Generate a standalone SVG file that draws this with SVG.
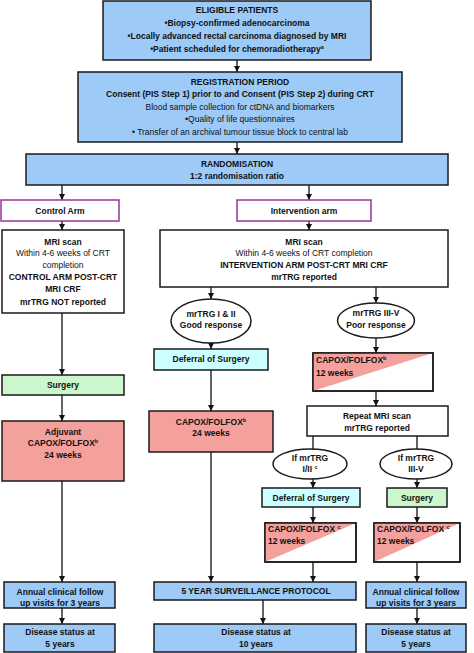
<svg xmlns="http://www.w3.org/2000/svg" width="474" height="653" viewBox="0 0 474 653">
<defs>
<marker id="ah" markerUnits="userSpaceOnUse" markerWidth="6" markerHeight="6" refX="6" refY="3" orient="auto">
<path d="M0,0 L6,3 L0,6 z" fill="#111"/>
</marker>
<style>
.bx{stroke:#1a1a1a;stroke-width:1.5}
.blue{fill:#9dcaf7}
.pink{fill:#f4a19e}
.cyan{fill:#ccffff}
.green{fill:#ccf7cc}
.white{fill:#fff}
.purple{fill:#fff;stroke:#993399;stroke-width:1.5}
text{font-family:"Liberation Sans",Arial,sans-serif;font-size:8.5px;fill:#111}
.m{text-anchor:middle}
.b{font-weight:bold}
.sup{font-size:5.5px}
.c line{stroke:#111;stroke-width:1.3}
.c .a{marker-end:url(#ah)}
</style>
</defs>
<rect width="474" height="653" fill="#fff"/>

<g class="c">
<line class="a" x1="237" y1="60" x2="237" y2="72"/>
<line class="a" x1="237" y1="142" x2="237" y2="154"/>
<line class="a" x1="62" y1="185" x2="62" y2="200"/>
<line class="a" x1="309" y1="185" x2="309" y2="200"/>
<line class="a" x1="62" y1="221" x2="62" y2="230"/>
<line class="a" x1="309" y1="221" x2="309" y2="230"/>
<line class="a" x1="62" y1="313" x2="62" y2="375"/>
<line class="a" x1="62" y1="395" x2="62" y2="421"/>
<line class="a" x1="62" y1="481" x2="62" y2="582"/>
<line class="a" x1="62" y1="608" x2="62" y2="624"/>
<line class="a" x1="211" y1="287" x2="211" y2="299"/>
<line class="a" x1="376" y1="287" x2="376" y2="303"/>
<line class="a" x1="211" y1="343" x2="211" y2="349"/>
<line class="a" x1="211" y1="370" x2="211" y2="411"/>
<line class="a" x1="211" y1="452" x2="211" y2="582"/>
<line class="a" x1="376" y1="338" x2="376" y2="353"/>
<line class="a" x1="376" y1="391" x2="376" y2="406"/>
<line x1="313" y1="436" x2="313" y2="449"/>
<line x1="417" y1="436" x2="417" y2="449"/>
<line class="a" x1="313" y1="479" x2="313" y2="488"/>
<line class="a" x1="417" y1="479" x2="417" y2="488"/>
<line class="a" x1="313" y1="507" x2="313" y2="523"/>
<line class="a" x1="417" y1="507" x2="417" y2="523"/>
<line class="a" x1="313" y1="562" x2="313" y2="582"/>
<line class="a" x1="417" y1="562" x2="417" y2="582"/>
<line class="a" x1="417" y1="608" x2="417" y2="624"/>
<line class="a" x1="263" y1="600" x2="263" y2="624"/>
</g>

<g id="eligible">
<rect class="bx blue" x="103" y="1" width="268" height="59"/>
<text class="m b" x="237" y="13">ELIGIBLE PATIENTS</text>
<text class="m b" x="237" y="26">•Biopsy-confirmed adenocarcinoma</text>
<text class="m b" x="237" y="39">•Locally advanced rectal carcinoma diagnosed by MRI</text>
<text class="m b" x="237" y="52">•Patient scheduled for chemoradiotherapy<tspan class="sup" dy="-3">a</tspan></text>
</g>

<g id="registration">
<rect class="bx blue" x="78" y="72" width="324" height="70"/>
<text class="m b" x="240" y="85">REGISTRATION PERIOD</text>
<text class="m b" x="240" y="97">Consent (PIS Step 1) prior to and Consent (PIS Step 2) during CRT</text>
<text class="m" x="240" y="110">Blood sample collection for ctDNA and biomarkers</text>
<text class="m" x="240" y="122">•Quality of life questionnaires</text>
<text class="m" x="240" y="135">• Transfer of an archival tumour tissue block to central lab</text>
</g>

<g id="randomisation">
<rect class="bx blue" x="26" y="154" width="422" height="31"/>
<text class="m b" x="237" y="167">RANDOMISATION</text>
<text class="m b" x="237" y="179">1:2 randomisation ratio</text>
</g>

<g id="control-arm">
<rect class="purple" x="1" y="200" width="118" height="21"/>
<text class="m b" x="60" y="214">Control Arm</text>
</g>

<g id="intervention-arm">
<rect class="purple" x="237" y="200" width="134" height="21"/>
<text class="m b" x="304" y="214">Intervention arm</text>
</g>

<g id="control-mri">
<rect class="bx white" x="2" y="230" width="122" height="83"/>
<text class="m b" x="63" y="245">MRI scan</text>
<text class="m" x="63" y="256">Within 4-6 weeks of CRT</text>
<text class="m" x="63" y="268">completion</text>
<text class="m b" x="63" y="280">CONTROL ARM POST-CRT</text>
<text class="m b" x="63" y="292">MRI CRF</text>
<text class="m b" x="63" y="305">mrTRG NOT reported</text>
</g>

<g id="intervention-mri">
<rect class="bx white" x="160" y="230" width="288" height="57"/>
<text class="m b" x="304" y="245">MRI scan</text>
<text class="m" x="304" y="256">Within 4-6 weeks of CRT completion</text>
<text class="m b" x="304" y="268">INTERVENTION ARM POST-CRT MRI CRF</text>
<text class="m b" x="304" y="280">mrTRG reported</text>
</g>

<g id="control-surgery">
<rect class="bx green" x="2" y="375" width="122" height="20"/>
<text class="m b" x="63" y="388">Surgery</text>
</g>

<g id="adjuvant">
<rect class="bx pink" x="2" y="421" width="122" height="60"/>
<text class="m b" x="63" y="435">Adjuvant</text>
<text class="m b" x="63" y="446">CAPOX/FOLFOX<tspan class="sup" dy="-3">b</tspan></text>
<text class="m b" x="63" y="458">24 weeks</text>
</g>

<g id="good-response">
<ellipse class="bx white" cx="211" cy="321" rx="40" ry="22"/>
<text class="m b" x="211" y="317">mrTRG I &amp; II</text>
<text class="m b" x="211" y="328">Good response</text>
</g>

<g id="poor-response">
<ellipse class="bx white" cx="376" cy="320.5" rx="38.5" ry="17.5"/>
<text class="m b" x="376" y="316">mrTRG III-V</text>
<text class="m b" x="376" y="328">Poor response</text>
</g>

<g id="deferral-1">
<rect class="bx cyan" x="154" y="349" width="114" height="21"/>
<text class="m b" x="211" y="362">Deferral of Surgery</text>
</g>

<g id="capox-24">
<rect class="bx pink" x="149" y="411" width="124" height="41"/>
<text class="m b" x="211" y="425">CAPOX/FOLFOX<tspan class="sup" dy="-3">b</tspan></text>
<text class="m b" x="211" y="436">24 weeks</text>
</g>

<g id="capox-12-a">
<rect class="bx white" x="313" y="353" width="120" height="38"/>
<polygon class="pink" points="313,353 433,353 313,391"/>
<rect fill="none" class="bx" x="313" y="353" width="120" height="38"/>
<text class="b" x="316" y="363">CAPOX/FOLFOX<tspan class="sup" dy="-3">b</tspan></text>
<text class="b" x="316" y="376">12 weeks</text>
</g>

<g id="repeat-mri">
<rect class="bx white" x="307" y="406" width="141" height="30"/>
<text class="m b" x="377" y="419">Repeat MRI scan</text>
<text class="m b" x="377" y="431">mrTRG reported</text>
</g>

<g id="if-good">
<ellipse class="bx white" cx="310" cy="464" rx="37" ry="15"/>
<text class="m b" x="310" y="461">If mrTRG</text>
<text class="m b" x="310" y="472">I/II <tspan class="sup" dy="-3">c</tspan></text>
</g>

<g id="if-poor">
<ellipse class="bx white" cx="416" cy="464" rx="36" ry="15"/>
<text class="m b" x="416" y="461">If mrTRG</text>
<text class="m b" x="416" y="472">III-V</text>
</g>

<g id="deferral-2">
<rect class="bx cyan" x="262" y="488" width="98" height="19"/>
<text class="m b" x="311" y="501">Deferral of Surgery</text>
</g>

<g id="surgery-2">
<rect class="bx green" x="387" y="488" width="60" height="19"/>
<text class="m b" x="417" y="501">Surgery</text>
</g>

<g id="capox-12-b">
<rect class="bx white" x="265" y="523" width="91" height="39"/>
<polygon class="pink" points="265,523 356,523 265,562"/>
<rect fill="none" class="bx" x="265" y="523" width="91" height="39"/>
<text class="b" x="268" y="532">CAPOX/FOLFOX <tspan class="sup" dy="-3">c</tspan></text>
<text class="b" x="268" y="544">12 weeks</text>
</g>

<g id="capox-12-c">
<rect class="bx white" x="374" y="523" width="86" height="39"/>
<polygon class="pink" points="374,523 460,523 374,562"/>
<rect fill="none" class="bx" x="374" y="523" width="86" height="39"/>
<text class="b" x="377" y="532">CAPOX/FOLFOX <tspan class="sup" dy="-3">c</tspan></text>
<text class="b" x="377" y="544">12 weeks</text>
</g>

<g id="annual-left">
<rect class="bx blue" x="4" y="582" width="111" height="26"/>
<text class="m b" x="60" y="595">Annual clinical follow</text>
<text class="m b" x="60" y="606">up visits for 3 years</text>
</g>

<g id="status-left">
<rect class="bx blue" x="4" y="624" width="111" height="28"/>
<text class="m b" x="60" y="635">Disease status at</text>
<text class="m b" x="60" y="647">5 years</text>
</g>

<g id="surveillance">
<rect class="bx blue" x="154" y="582" width="202" height="18"/>
<text class="m b" x="256" y="594">5 YEAR SURVEILLANCE PROTOCOL</text>
</g>

<g id="status-mid">
<rect class="bx blue" x="154" y="624" width="202" height="28"/>
<text class="m b" x="256" y="635">Disease status at</text>
<text class="m b" x="256" y="647">10 years</text>
</g>

<g id="annual-right">
<rect class="bx blue" x="366" y="582" width="100" height="26"/>
<text class="m b" x="416" y="595">Annual clinical follow</text>
<text class="m b" x="416" y="606">up visits for 3 years</text>
</g>

<g id="status-right">
<rect class="bx blue" x="366" y="624" width="100" height="28"/>
<text class="m b" x="416" y="635">Disease status at</text>
<text class="m b" x="416" y="647">5 years</text>
</g>
</svg>
